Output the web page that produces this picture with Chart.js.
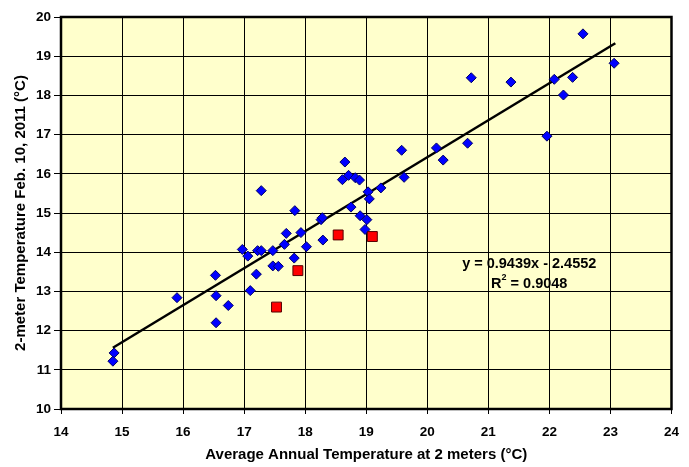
<!DOCTYPE html>
<html>
<head>
<meta charset="utf-8">
<script src="https://cdn.jsdelivr.net/npm/chart.js@4.4.1/dist/chart.umd.min.js"></script>
<style>
  body { margin: 0; background: #fff; }
  #tempChart { display: block; }
</style>
</head>
<body>
<canvas id="tempChart" width="689" height="467"></canvas>
<script>
  // station values: annual mean (x) vs Feb. 10, 2011 reading (y)
  const stationX = [14.87, 14.85, 15.90, 16.53, 16.54, 16.54, 16.74, 16.97, 17.06, 17.10,
                    17.20, 17.22, 17.28, 17.28, 17.47, 17.47, 17.56, 17.66, 17.69, 17.82,
                    17.83, 17.93, 18.02, 18.26, 18.28, 18.29, 18.61, 18.65, 18.71, 18.75,
                    18.82, 18.89, 18.90, 18.98, 19.01, 19.03, 19.05, 19.24, 19.58, 19.62,
                    20.15, 20.26, 20.66, 20.72, 21.37, 21.96, 22.08, 22.23, 22.38, 22.55, 23.06];
  const stationY = [11.43, 11.22, 12.84, 13.41, 12.89, 12.20, 12.64, 14.07, 13.90, 13.02,
                    13.44, 14.04, 14.04, 15.57, 14.04, 13.65, 13.64, 14.20, 14.48, 13.85,
                    15.06, 14.50, 14.14, 14.83, 14.88, 14.31, 15.85, 16.30, 15.96, 15.15,
                    15.90, 15.84, 14.93, 14.58, 14.83, 15.54, 15.36, 15.64, 16.60, 15.91,
                    16.66, 16.35, 16.78, 18.45, 18.34, 16.96, 18.41, 18.01, 18.46, 19.57, 18.82];

  // highlighted stations (red squares)
  const markedX = [17.53, 17.88, 18.54, 19.10];
  const markedY = [12.60, 13.53, 14.44, 14.40];

  // linear fit of the blue points
  const slope = 0.9439;
  const intercept = -2.4552;
  const rSquared = 0.9048;
  const fitRange = [14.85, 23.08];

  const xTicks = [14, 15, 16, 17, 18, 19, 20, 21, 22, 23, 24];
  const yTicks = [10, 11, 12, 13, 14, 15, 16, 17, 18, 19, 20];

  const toPoints = (xs, ys) => xs.map((x, i) => ({ x: x, y: ys[i] }));
  const fitLine = fitRange.map(x => ({ x: x, y: slope * x + intercept }));

  const FONT = "'Liberation Sans', Arial, sans-serif";
  const EQ_SIZE = 14.5;

  // yellow plot area behind everything, black frame and equation on top of the grid
  const plotFrame = {
    id: "plotFrame",
    beforeDraw(chart) {
      const a = chart.chartArea, ctx = chart.ctx;
      ctx.save();
      ctx.fillStyle = "#FFFFCC";
      ctx.fillRect(a.left, a.top, a.right - a.left, a.bottom - a.top);
      ctx.restore();
    },
    beforeDatasetsDraw(chart) {
      const a = chart.chartArea, ctx = chart.ctx;
      ctx.save();
      ctx.strokeStyle = "#000";
      ctx.lineWidth = 2.5;
      ctx.strokeRect(a.left, a.top, a.right - a.left, a.bottom - a.top);

      const xs = chart.scales.x, ys = chart.scales.y;
      const cx = xs.getPixelForValue(21.67);
      const big = "bold " + EQ_SIZE + "px " + FONT;
      const small = "bold " + Math.round(EQ_SIZE * 0.65) + "px " + FONT;
      ctx.fillStyle = "#000";
      ctx.font = big;
      ctx.textAlign = "center";
      ctx.textBaseline = "middle";
      ctx.fillText("y = " + slope.toFixed(4) + "x - " + Math.abs(intercept).toFixed(4),
                   cx, ys.getPixelForValue(13.71));
      // R² line with a raised 2
      const r2y = ys.getPixelForValue(13.20);
      const rest = " = " + rSquared.toFixed(4);
      const wR = ctx.measureText("R").width;
      const wRest = ctx.measureText(rest).width;
      ctx.font = small;
      const w2 = ctx.measureText("2").width;
      const sx = cx - (wR + w2 + wRest) / 2;
      ctx.textAlign = "left";
      ctx.font = big;
      ctx.fillText("R", sx, r2y);
      ctx.font = small;
      ctx.fillText("2", sx + wR, r2y - 6);
      ctx.font = big;
      ctx.fillText(rest, sx + wR + w2, r2y);
      ctx.restore();
    }
  };

  new Chart(document.getElementById("tempChart"), {
    type: "scatter",
    data: {
      datasets: [
        {
          label: "Fit",
          type: "line",
          data: fitLine,
          borderColor: "#000",
          borderWidth: 2.5,
          pointRadius: 0,
          fill: false,
          order: 3
        },
        {
          label: "Stations",
          data: toPoints(stationX, stationY),
          pointStyle: "rectRot",
          pointRadius: 5,
          backgroundColor: "#0000FF",
          borderColor: "#000066",
          borderWidth: 1,
          order: 2
        },
        {
          label: "Marked",
          data: toPoints(markedX, markedY),
          pointStyle: "rect",
          pointRadius: 7,
          backgroundColor: "#FF0000",
          borderColor: "#550000",
          borderWidth: 1,
          order: 1
        }
      ]
    },
    options: {
      responsive: false,
      animation: false,
      layout: { padding: { top: 17, right: 8, left: 0, bottom: 2 } },
      plugins: {
        legend: { display: false },
        tooltip: { enabled: false }
      },
      scales: {
        x: {
          type: "linear",
          min: 14,
          max: 24,
          afterBuildTicks: s => { s.ticks = xTicks.map(v => ({ value: v })); },
          afterFit: s => { s.height = 56; },
          grid: { color: "#000", lineWidth: 1, tickLength: 5 },
          border: { display: false },
          ticks: {
            color: "#000",
            padding: 10,
            maxRotation: 0,
            font: { family: FONT, size: 13.5, weight: "bold" }
          },
          title: {
            display: true,
            text: "Average Annual Temperature at 2 meters (°C)",
            color: "#000",
            padding: { top: 0, bottom: 1 },
            font: { family: FONT, size: 15, weight: "bold" }
          }
        },
        y: {
          type: "linear",
          min: 10,
          max: 20,
          afterBuildTicks: s => { s.ticks = yTicks.map(v => ({ value: v })); },
          afterFit: s => { s.width = 61; },
          grid: { color: "#000", lineWidth: 1, tickLength: 7 },
          border: { display: false },
          ticks: {
            color: "#000",
            padding: 3,
            font: { family: FONT, size: 13.5, weight: "bold" }
          },
          title: {
            display: true,
            text: "2-meter Temperature Feb. 10, 2011 (°C)",
            color: "#000",
            padding: { top: 12, bottom: 0 },
            font: { family: FONT, size: 15, weight: "bold" }
          }
        }
      }
    },
    plugins: [plotFrame]
  });
</script>
</body>
</html>
